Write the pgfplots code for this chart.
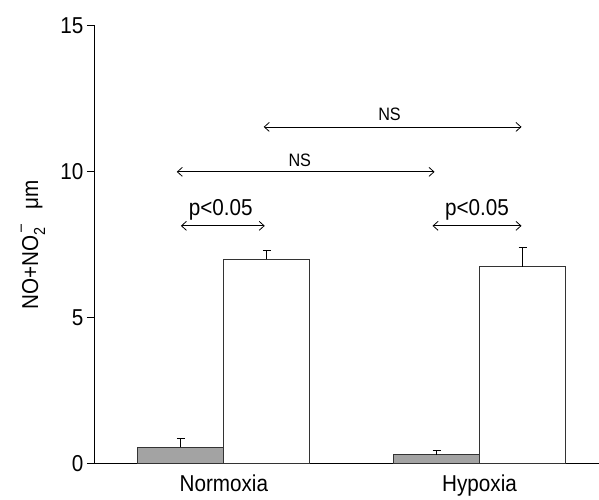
\documentclass[border=0pt]{standalone}
\usepackage{fontspec}
\setmainfont{Liberation Sans}[FakeStretch=0.9]
\usepackage{pgfplots}
\pgfplotsset{compat=1.18}
\usetikzlibrary{arrows.meta}
\definecolor{bargrey}{HTML}{A3A3A3}
\begin{document}
\begin{tikzpicture}
\begin{axis}[
  name=ax,
  scale only axis,
  width=504pt, height=438pt,
  xmin=-0.504, xmax=1.465,
  ymin=0, ymax=15,
  axis lines*=left,
  axis line style={line width=1pt},
  xtick={0,1},
  xticklabels={Normoxia,Hypoxia},
  x tick style={draw=none},
  ytick={0,5,10,15},
  tick align=outside,
  major tick length=8pt,
  y tick style={line width=1pt, black},
  /pgf/number format/assume math mode=true,
  tick label style={font=\fontsize{23}{26}\selectfont},
  every axis y label/.style={at={([xshift=-62pt]axis description cs:0,0.5)}, rotate=90, anchor=center},
  ylabel={\fontsize{23}{26}\selectfont NO+NO\makebox[0pt][l]{\raisebox{0.55em}{\fontsize{16}{16}\selectfont\,–}}\raisebox{-0.3em}{\fontsize{16}{16}\selectfont 2}\hspace{0.8em}μm},
  clip=false,
  error bars/y dir=plus,
  error bars/y explicit,
  error bars/error bar style={line width=1pt, black},
  error bars/error mark options={rotate=90, mark size=4pt, line width=1pt, black},
]
\addplot[ybar, bar width=86pt, bar shift=0pt, fill=bargrey, draw=black!80, line width=0.8pt]
  coordinates {(-0.168,0.56) +- (0,0.29) (0.832,0.30) +- (0,0.15)};
\addplot[ybar, bar width=86pt, bar shift=0pt, fill=white, draw=black!80, line width=0.8pt]
  coordinates {(0.168,7.01) +- (0,0.29) (1.168,6.75) +- (0,0.66)};
% significance arrows
\draw[{Straight Barb[length=5pt,width=9pt]}-{Straight Barb[length=5pt,width=9pt]}, line width=0.8pt]
  (axis cs:-0.168,8.15) -- (axis cs:0.160,8.15);
\draw[{Straight Barb[length=5pt,width=9pt]}-{Straight Barb[length=5pt,width=9pt]}, line width=0.8pt]
  (axis cs:0.816,8.15) -- (axis cs:1.164,8.15);
\draw[{Straight Barb[length=5pt,width=9pt]}-{Straight Barb[length=5pt,width=9pt]}, line width=0.8pt]
  (axis cs:-0.184,10.0) -- (axis cs:0.824,10.0);
\draw[{Straight Barb[length=5pt,width=9pt]}-{Straight Barb[length=5pt,width=9pt]}, line width=0.8pt]
  (axis cs:0.156,11.54) -- (axis cs:1.164,11.54);
\node[font=\fontsize{23}{26}\selectfont, anchor=base] at (axis cs:-0.012,8.5) {p<0.05};
\node[font=\fontsize{23}{26}\selectfont, anchor=base] at (axis cs:0.990,8.5) {p<0.05};
\node[font=\fontsize{18}{21}\selectfont, anchor=base] at (axis cs:0.297,10.2) {NS};
\node[font=\fontsize{18}{21}\selectfont, anchor=base] at (axis cs:0.648,11.75) {NS};
\end{axis}
\path ([xshift=-95pt,yshift=-33pt]ax.south west) rectangle ([yshift=26pt]ax.north east);
\end{tikzpicture}
\end{document}
